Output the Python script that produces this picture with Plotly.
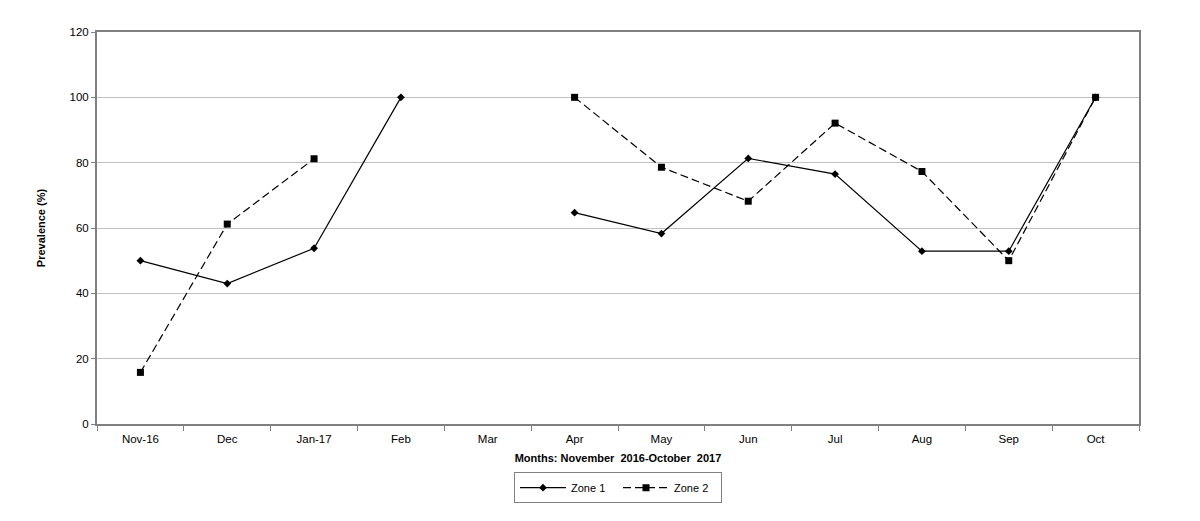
import plotly.graph_objects as go

months = ["Nov-16", "Dec", "Jan-17", "Feb", "Mar", "Apr", "May", "Jun", "Jul", "Aug", "Sep", "Oct"]
zone1 = [50, 43, 53.8, 100, None, 64.7, 58.3, 81.3, 76.5, 52.9, 52.9, 100]
zone2 = [15.8, 61.2, 81.2, None, None, 100, 78.6, 68.2, 92.1, 77.3, 50.0, 100]
y_ticks = [0, 20, 40, 60, 80, 100, 120]

FONT = "Liberation Sans, Arial, sans-serif"

fig = go.Figure()
fig.add_trace(go.Scatter(
    x=months, y=zone1, name="Zone 1", mode="lines+markers",
    line=dict(color="black", width=1.2),
    marker=dict(symbol="diamond", size=6, color="black"),
    connectgaps=False,
))
fig.add_trace(go.Scatter(
    x=months, y=zone2, name="Zone 2", mode="lines+markers",
    line=dict(color="black", width=1.2, dash="8px,4px"),
    marker=dict(symbol="square", size=7, color="black"),
    connectgaps=False,
))

fig.update_layout(
    width=1192, height=513,
    margin=dict(l=89, r=61, t=24, b=97),
    plot_bgcolor="white", paper_bgcolor="white",
    font=dict(family=FONT, size=11, color="black"),
    showlegend=True,
    legend=dict(
        orientation="h", x=0.5, xanchor="center", y=-0.123, yanchor="top",
        bordercolor="#808080", borderwidth=1, font=dict(size=11),
        itemwidth=46, entrywidth=42, tracegroupgap=0,
    ),
)
fig.update_xaxes(
    type="category", categoryorder="array", categoryarray=months,
    range=[-0.5, 11.5],
    showline=True, linecolor="#808080", linewidth=2, mirror=True,
    ticks="outside", tickson="boundaries", ticklen=5, tickcolor="#808080",
    tickfont=dict(size=11.5), ticklabelstandoff=3,
    showgrid=False,
    title=dict(text="<b>Months: November\u00a0 2016-October\u00a0 2017</b>",
               font=dict(size=11), standoff=11),
)
fig.update_yaxes(
    range=[0, 120], tickvals=y_ticks,
    showline=True, linecolor="#808080", linewidth=2, mirror=True,
    ticks="outside", ticklen=4, tickcolor="#808080",
    tickfont=dict(size=11.5),
    showgrid=True, gridcolor="#c0c0c0", gridwidth=1,
    zeroline=False,
    title=dict(text="<b>Prevalence (%)</b>", font=dict(size=11), standoff=22),
)

fig.write_html("out.html")
